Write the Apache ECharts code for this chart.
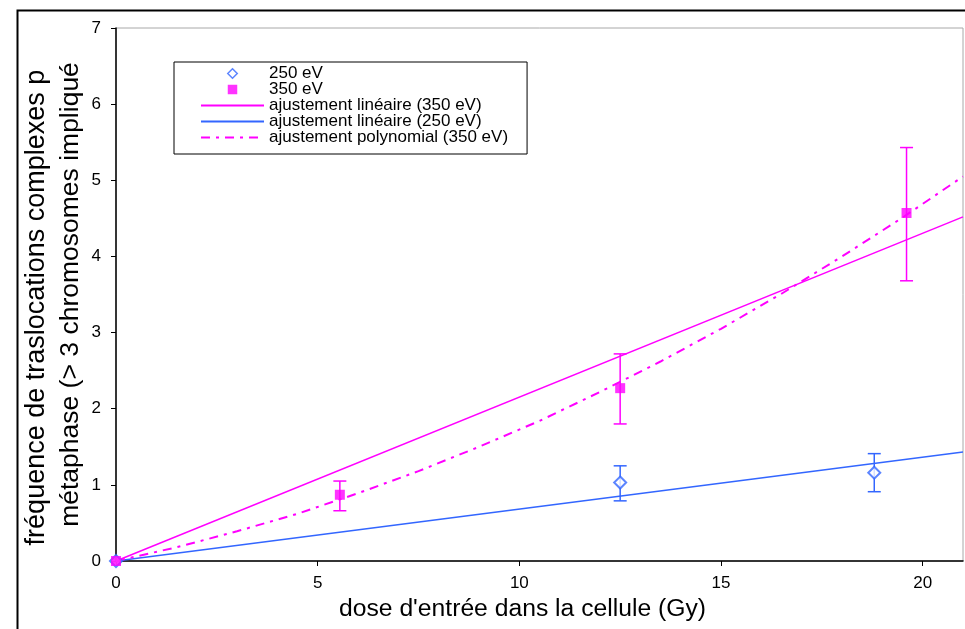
<!DOCTYPE html>
<html><head><meta charset="utf-8">
<script src="https://cdn.jsdelivr.net/npm/echarts@6/dist/echarts.min.js"></script>
<style>html,body{margin:0;padding:0;background:#fff}#c{width:965px;height:629px}</style>
</head><body><div id="c"></div>
<script>
// --- data ---
const x250 = [0, 12.5, 18.8];
const y250 = [0, 1.03, 1.16];
const lo250 = [null, 0.79, 0.91];
const hi250 = [null, 1.25, 1.41];

const x350 = [0, 5.55, 12.5, 19.6];
const y350 = [0, 0.87, 2.27, 4.57];
const lo350 = [null, 0.66, 1.80, 3.68];
const hi350 = [null, 1.05, 2.72, 5.43];

const linX = [0, 21];
const lin350Y = [0, 4.52];
const lin250Y = [0, 1.43];

const polyX = [0, 1.5, 3, 4.5, 6, 7.5, 9, 10.5, 12, 13.5, 15, 16.5, 18, 19.5, 21];
const polyY = [0, 0.18, 0.39, 0.62, 0.89, 1.18, 1.50, 1.84, 2.22, 2.62, 3.05, 3.51, 4.00, 4.51, 5.05];

const xTicks = [0, 5, 10, 15, 20];
const yTicks = [0, 1, 2, 3, 4, 5, 6, 7];

const names = ['250 eV', '350 eV', 'ajustement linéaire (350 eV)', 'ajustement linéaire (250 eV)', 'ajustement polynomial (350 eV)'];
const yName1 = 'fréquence de traslocations complexes p';
const yName2 = 'métaphase (> 3 chromosomes impliqué';
const xName = "dose d'entrée dans la cellule (Gy)";

const BLUE = '#3366ff', MAG = '#ff00ff';
const zip = (a, b) => a.map((v, i) => [v, b[i]]);
const errData = (xs, lo, hi) => xs.map((v, i) => [v, lo[i], hi[i]]).filter(d => d[1] != null);

function errBar(color) {
  return function (params, api) {
    const x = api.value(0), lo = api.value(1), hi = api.value(2);
    const p1 = api.coord([x, lo]), p2 = api.coord([x, hi]);
    const w = 6.5;
    const st = { stroke: color, lineWidth: 1.5 };
    return { type: 'group', children: [
      { type: 'line', shape: { x1: p1[0], y1: p1[1], x2: p2[0], y2: p2[1] }, style: st },
      { type: 'line', shape: { x1: p1[0] - w, y1: p1[1], x2: p1[0] + w, y2: p1[1] }, style: st },
      { type: 'line', shape: { x1: p2[0] - w, y1: p2[1], x2: p2[0] + w, y2: p2[1] }, style: st }
    ]};
  };
}

const DIAMOND = 'path://M5,0 L10,5 L5,10 L0,5 Z';
const SQUARE = 'path://M0,0 L10,0 L10,10 L0,10 Z';

const FONT = '"Liberation Sans", Arial, sans-serif';
const chart = echarts.init(document.getElementById('c'), null, { renderer: 'canvas' });
chart.setOption({
  animation: false,
  backgroundColor: '#fff',
  textStyle: { fontFamily: FONT, color: '#000' },
  graphic: [{ type: 'rect', left: 15, top: 8, shape: { width: 1000, height: 700 },
    style: { fill: 'none', stroke: '#000', lineWidth: 2 }, silent: true }],
  grid: { left: 116, right: 2, top: 28, bottom: 68, show: true, borderColor: '#a8a8a8', borderWidth: 1, backgroundColor: 'transparent' },
  legend: {
    orient: 'vertical', left: 174, top: 62,
    symbolKeepAspect: true,
    data: [
      { name: names[0], icon: DIAMOND, itemStyle: { color: '#fff', borderColor: BLUE, borderWidth: 1.5 } },
      { name: names[1], icon: SQUARE, itemStyle: { color: MAG, borderWidth: 0 } },
      { name: names[2], itemStyle: { opacity: 0 } },
      { name: names[3], itemStyle: { opacity: 0 } },
      { name: names[4], itemStyle: { opacity: 0 } }
    ],
    padding: [3, 19, 8, 26],
    itemWidth: 63, itemHeight: 9.5, itemGap: -1, itemTextGap: 5,
    borderColor: '#000', borderWidth: 1, backgroundColor: '#fff',
    textStyle: { fontFamily: FONT, fontSize: 17, color: '#000', lineHeight: 15.5 }
  },
  xAxis: {
    type: 'value', min: 0, max: 21, interval: 5,
    name: xName, nameLocation: 'middle', nameGap: 36, nameMoveOverlap: false,
    nameTextStyle: { fontFamily: FONT, fontSize: 24.7, color: '#000', padding: [0, 34, 0, 0] },
    axisLine: { show: true, onZero: false, lineStyle: { color: '#000', width: 1.5 } },
    axisTick: { show: true, length: 5, customValues: xTicks, lineStyle: { color: '#000' } },
    axisLabel: { customValues: xTicks, fontFamily: FONT, fontSize: 17, color: '#000', margin: 14 },
    splitLine: { show: false }
  },
  yAxis: {
    type: 'value', min: 0, max: 7, interval: 1,
    name: '{a|' + yName1 + '}\n{b|' + yName2 + '}',
    nameLocation: 'middle', nameRotate: 90, nameGap: 28, nameMoveOverlap: false,
    nameTextStyle: { fontFamily: FONT, fontSize: 26.5, color: '#000', lineHeight: 34, align: 'center',
      rich: {
        a: { fontFamily: FONT, fontSize: 27, color: '#000', lineHeight: 34, padding: [0, 26, 0, 0] },
        b: { fontFamily: FONT, fontSize: 26.5, color: '#000', lineHeight: 34 }
      } },
    axisLine: { show: true, onZero: false, lineStyle: { color: '#000', width: 1.5 } },
    axisTick: { show: true, length: 5, customValues: yTicks, lineStyle: { color: '#000' } },
    axisLabel: { customValues: yTicks, fontFamily: FONT, fontSize: 17, color: '#000', margin: 15 },
    splitLine: { show: false }
  },
  series: [
    { name: names[2], type: 'line', data: zip(linX, lin350Y), symbol: 'none', color: MAG,
      lineStyle: { color: MAG, width: 1.5 }, z: 2 },
    { name: names[3], type: 'line', data: zip(linX, lin250Y), symbol: 'none', color: BLUE,
      lineStyle: { color: BLUE, width: 1.5 }, z: 2 },
    { name: names[4], type: 'line', data: zip(polyX, polyY), symbol: 'none', color: MAG,
      lineStyle: { color: MAG, width: 2, type: [9, 6, 3, 6] }, z: 2 },
    { type: 'custom', data: errData(x250, lo250, hi250), renderItem: errBar(BLUE), z: 3, silent: true },
    { type: 'custom', data: errData(x350, lo350, hi350), renderItem: errBar(MAG), z: 3, silent: true },
    { name: names[0], type: 'scatter', data: zip(x250, y250), symbol: 'emptyDiamond', symbolSize: 12,
      color: BLUE, itemStyle: { color: BLUE, borderColor: BLUE, borderWidth: 1.5 }, z: 4 },
    { name: names[1], type: 'scatter', data: zip(x350, y350), symbol: 'rect', symbolSize: 10,
      color: MAG, itemStyle: { color: MAG }, z: 5 }
  ]
});
</script></body></html>
